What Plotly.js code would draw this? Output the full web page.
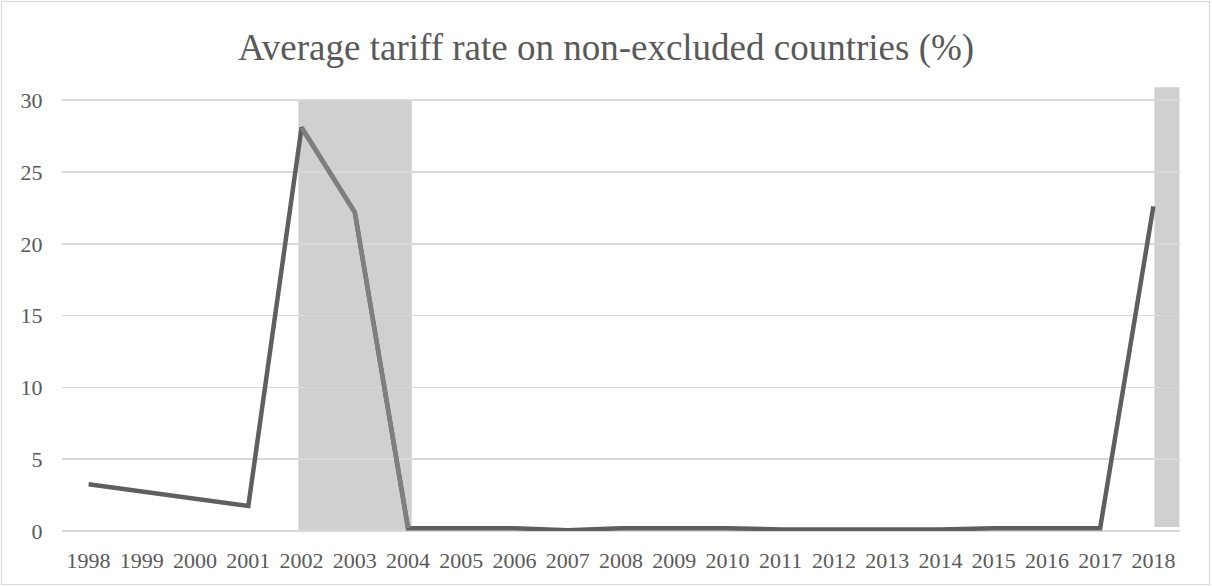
<!DOCTYPE html>
<html>
<head>
<meta charset="utf-8">
<script src="https://cdn.plot.ly/plotly-3.0.1.min.js"></script>
<style>
html,body{margin:0;padding:0;background:#fff;}
#wrap{position:relative;width:1212px;height:586px;}
#chart{width:1212px;height:586px;}
#frame{position:absolute;left:1px;top:1px;width:1207px;height:582px;border:1px solid #d9d9d9;pointer-events:none;}
</style>
</head>
<body>
<div id="wrap"><div id="chart"></div><div id="frame"></div></div>
<script>
const years = ['1998','1999','2000','2001','2002','2003','2004','2005','2006','2007','2008','2009','2010','2011','2012','2013','2014','2015','2016','2017','2018'];
const tariffRate = [3.25, 2.75, 2.25, 1.75, 28.1, 22.2, 0.2, 0.2, 0.2, 0.05, 0.2, 0.2, 0.2, 0.1, 0.1, 0.1, 0.1, 0.2, 0.2, 0.2, 22.6];
// shaded periods: [start category, end category, bottom value, top value]
const shadeStart = ['2002', '2018'];
const shadeEnd = ['2004', '2018'];
const shadeBottom = [0, 0.28];
const shadeTop = [30, 30.9];
// highlighted (lighter) segment of the line
const lightStart = '2002';
const lightEnd = '2004';
const yTicks = [0, 5, 10, 15, 20, 25, 30];

const FONT = 'Liberation Serif, Times New Roman, serif';
const idx = c => years.indexOf(c);
const shapes = [];
shapes.push({type:'rect', xref:'x', yref:'y', x0: idx(shadeStart[0]) - 0.06, x1: idx(shadeEnd[0]) + 0.07,
  y0: shadeBottom[0], y1: shadeTop[0], fillcolor:'#d0d0d0', line:{width:0}, layer:'below'});
shapes.push({type:'rect', xref:'x', yref:'y', x0: idx(shadeStart[1]) + 0.02, x1: idx(shadeEnd[1]) + 0.49,
  y0: shadeBottom[1], y1: shadeTop[1], fillcolor:'#d0d0d0', line:{width:0}, layer:'below'});

const li0 = idx(lightStart), li1 = idx(lightEnd);
const traces = [
  {x: years, y: tariffRate, type:'scatter', mode:'lines', line:{color:'#5f5f5f', width:4.5}, hoverinfo:'skip'},
  {x: years.slice(li0, li1 + 1), y: tariffRate.slice(li0, li1 + 1), type:'scatter', mode:'lines',
   line:{color:'#7f7f7f', width:4.5}, hoverinfo:'skip'}
];

const layout = {
  width: 1212, height: 586,
  margin: {l: 62, r: 32, t: 83, b: 55},
  paper_bgcolor: '#ffffff', plot_bgcolor: '#ffffff',
  showlegend: false,
  font: {family: FONT, color: '#595959'},
  title: {text: 'Average tariff rate on non-excluded countries (%)', x: 0.5, xanchor: 'center', y: 0.92, yanchor: 'middle',
    font: {family: FONT, size: 37, color: '#595959'}},
  xaxis: {type: 'category', showgrid: false, zeroline: false, showline: false,
    ticks: 'outside', ticklen: 10, tickcolor: 'rgba(0,0,0,0)',
    tickfont: {family: FONT, size: 22, color: '#595959'}, range: [-0.5, 20.5], fixedrange: true},
  yaxis: {range: [0, 31.2], tickvals: yTicks, ticktext: yTicks.map(String),
    showgrid: true, gridcolor: '#d9d9d9', gridwidth: 1.5, zeroline: true, zerolinecolor: '#d9d9d9', zerolinewidth: 1.5,
    showline: false, ticks: 'outside', ticklen: 14, tickcolor: 'rgba(0,0,0,0)',
    tickfont: {family: FONT, size: 22, color: '#595959'}, fixedrange: true},
  shapes: shapes
};
Plotly.newPlot('chart', traces, layout, {displayModeBar: false, staticPlot: true});
</script>
</body>
</html>
